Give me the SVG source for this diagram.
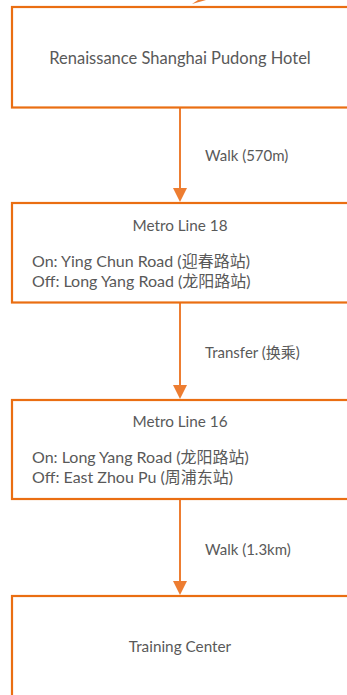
<svg xmlns="http://www.w3.org/2000/svg" width="347" height="695" viewBox="0 0 347 695">
<defs>
<style>
.box{fill:#ffffff;stroke:#EA6E12;stroke-width:2.2}
.t{font-family:Lato,"Noto Sans","Noto Sans CJK SC",sans-serif;font-size:16px;fill:#595959}
.c{text-anchor:middle}
.big{font-size:16.5px}
.mid{font-size:15.3px}
.lbl{font-family:Lato,"Noto Sans","Noto Sans CJK SC",sans-serif;font-size:15px;fill:#595959}
.edge{stroke:#ED7D31;stroke-width:2;fill:none}
.head{fill:#ED7D31}
</style>
</defs>
<rect width="347" height="695" fill="#ffffff"/>
<g id="connectors">
<polygon class="head" points="192,4 198,0 206,0"/>
<line class="edge" x1="180" y1="108" x2="180" y2="189"/>
<polygon class="head" points="173,188 187,188 180,202"/>
<line class="edge" x1="180" y1="303" x2="180" y2="386"/>
<polygon class="head" points="173,385 187,385 180,399"/>
<line class="edge" x1="180" y1="500" x2="180" y2="582"/>
<polygon class="head" points="173,581 187,581 180,595"/>
<text class="lbl" x="205" y="161">Walk (570m)</text>
<text class="lbl" x="205" y="358">Transfer (换乘)</text>
<text class="lbl" x="205" y="555">Walk (1.3km)</text>
</g>
<g id="hotel">
<rect class="box" x="12" y="7" width="360" height="100.5"/>
<text class="t c big" x="180" y="64">Renaissance Shanghai Pudong Hotel</text>
</g>
<g id="line18">
<rect class="box" x="12" y="203" width="360" height="99.5"/>
<text class="t c mid" x="180" y="231">Metro Line 18</text>
<text class="t" x="32" y="267">On: Ying Chun Road (迎春路站)</text>
<text class="t" x="32" y="287">Off: Long Yang Road (龙阳路站)</text>
</g>
<g id="line16">
<rect class="box" x="12" y="400" width="360" height="99"/>
<text class="t c mid" x="180" y="427">Metro Line 16</text>
<text class="t" x="32" y="463">On: Long Yang Road (龙阳路站)</text>
<text class="t" x="32" y="483">Off: East Zhou Pu (周浦东站)</text>
</g>
<g id="training">
<rect class="box" x="12" y="596" width="360" height="120"/>
<text class="t c mid" x="180" y="652">Training Center</text>
</g>
</svg>
